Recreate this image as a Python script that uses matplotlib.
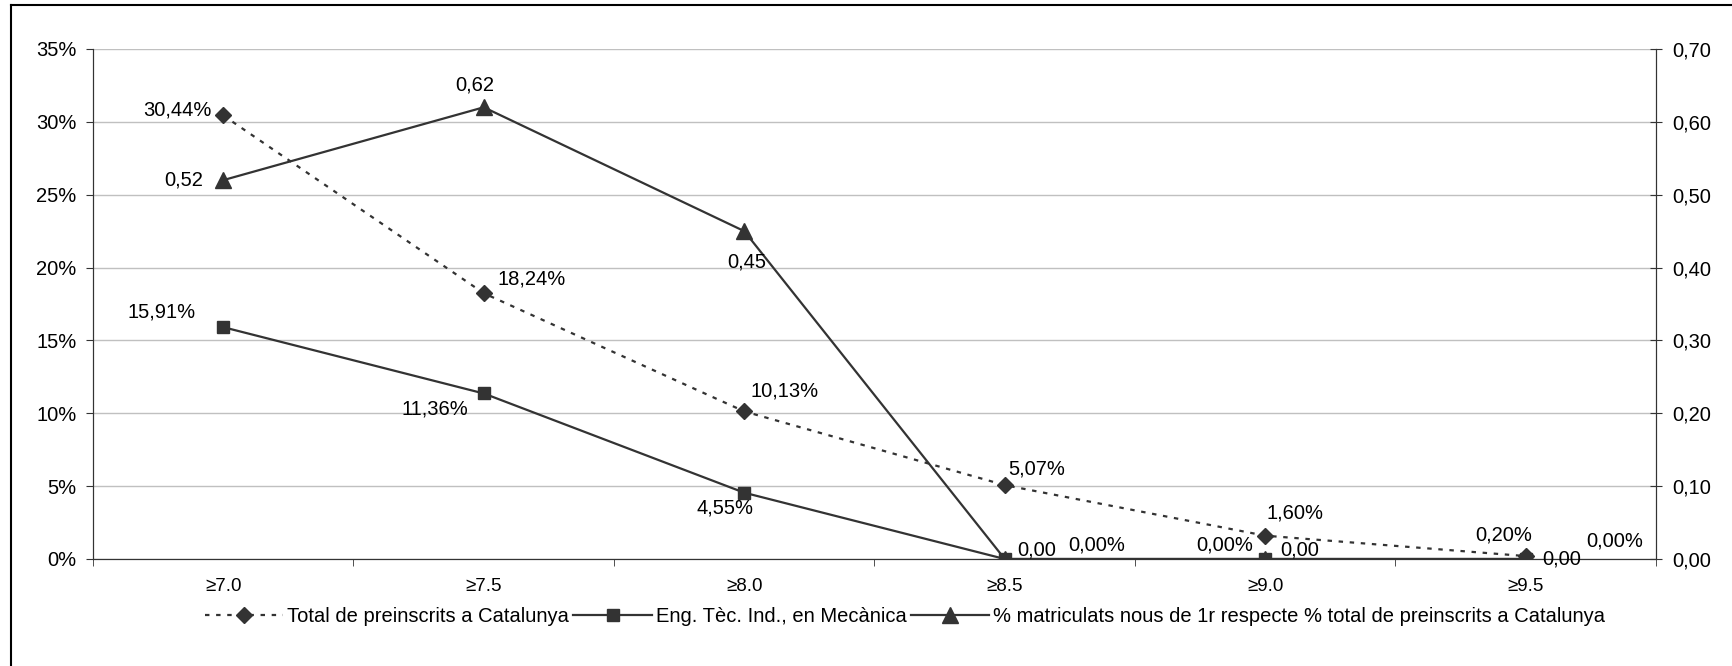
import matplotlib
matplotlib.use("Agg")
import matplotlib.pyplot as plt
from matplotlib.lines import Line2D
from matplotlib.ticker import FuncFormatter, MultipleLocator

plt.rcParams['font.family'] = ['Liberation Sans', 'DejaVu Sans']
plt.rcParams['font.size'] = 14.5

# data
categories = ['≥7.0', '≥7.5', '≥8.0', '≥8.5', '≥9.0', '≥9.5']
total_catalunya = [30.44, 18.24, 10.13, 5.07, 1.60, 0.20]   # %
eng_mecanica = [15.91, 11.36, 4.55, 0.00, 0.00, 0.00]       # %
ratio_matriculats = [0.52, 0.62, 0.45, 0.00, 0.00, 0.00]    # right axis

names = ['Total de preinscrits a Catalunya',
         'Eng. Tèc. Ind., en Mecànica',
         '% matriculats nous de 1r respecte % total de preinscrits a Catalunya']

# label offsets in pixels (dx, dy, ha)
off_total = [(-12, 5, 'right'), (14, 14, 'left'), (6, 20, 'left'),
             (4, 16, 'left'), (1, 23, 'left'), (6, 21, 'right')]
off_eng = [(-28, 15, 'right'), (-15, -16, 'right'), (9, -15, 'right'),
           (64, 14, 'left'), (-12, 14, 'right'), (61, 18, 'left')]
off_ratio = [(-20, 0, 'right'), (-9, 22, 'center'), (3, -31, 'center'),
             (13, 9, 'left'), (15, 9, 'left'), (17, 0, 'left')]

dark = '#333333'
x = list(range(len(categories)))

fig = plt.figure(figsize=(17.33, 6.66), dpi=100)
ax = fig.add_axes([93 / 1733, 1 - 559 / 666, (1656 - 93) / 1733, (559 - 49) / 666])
ax2 = ax.twinx()

l1, = ax.plot(x, total_catalunya, color=dark, linestyle=(0, (2, 3)), linewidth=1.6,
              marker='D', markersize=8, label=names[0], zorder=3)
l2, = ax.plot(x, eng_mecanica, color=dark, linestyle='-', linewidth=1.6,
              marker='s', markersize=9, label=names[1], zorder=3)
l3, = ax2.plot(x, ratio_matriculats, color=dark, linestyle='-', linewidth=1.6,
               marker='^', markersize=11, label=names[2], zorder=3)

ax.set_xlim(-0.5, len(categories) - 0.5)
ax.set_ylim(0, 35)
ax2.set_ylim(0, 0.70)

ax.yaxis.set_major_locator(MultipleLocator(5))
ax.yaxis.set_major_formatter(FuncFormatter(lambda v, p: '%d%%' % round(v)))
ax2.yaxis.set_major_locator(MultipleLocator(0.1))
ax2.yaxis.set_major_formatter(FuncFormatter(lambda v, p: ('%.2f' % v).replace('.', ',')))

ax.set_xticks(x)
ax.set_xticklabels(categories)
ax.set_xticks([i - 0.5 for i in range(len(categories) + 1)], minor=True)
ax.tick_params(axis='x', which='major', length=0, pad=14, labelsize=13.5)
ax.tick_params(axis='x', which='minor', length=5, color=dark, direction='out')
ax.tick_params(axis='y', length=5, color=dark, pad=7, labelsize=14.5)
ax2.tick_params(axis='y', length=9, color=dark, direction='inout', pad=7, labelsize=14.5)

ax.grid(axis='y', color='#c0c0c0', linewidth=1)
ax.set_axisbelow(True)
for a in (ax, ax2):
    a.spines['top'].set_visible(False)
    a.spines['left'].set_color(dark)
    a.spines['right'].set_color(dark)
    a.spines['bottom'].set_color(dark)

pct = lambda v: ('%.2f%%' % v).replace('.', ',')
dec = lambda v: ('%.2f' % v).replace('.', ',')

for i, v in enumerate(total_catalunya):
    dx, dy, ha = off_total[i]
    ax.annotate(pct(v), (i, v), xytext=(dx, dy), textcoords='offset pixels',
                ha=ha, va='center', fontsize=14.5, zorder=5)
for i, v in enumerate(eng_mecanica):
    dx, dy, ha = off_eng[i]
    ax.annotate(pct(v), (i, v), xytext=(dx, dy), textcoords='offset pixels',
                ha=ha, va='center', fontsize=14.5, zorder=5)
for i, v in enumerate(ratio_matriculats):
    dx, dy, ha = off_ratio[i]
    ax2.annotate(dec(v), (i, v), xytext=(dx, dy), textcoords='offset pixels',
                 ha=ha, va='center', fontsize=14.5, zorder=5)

fig.legend(handles=[l1, l2, l3], loc='center', bbox_to_anchor=(905 / 1733, 1 - 617 / 666),
           ncol=3, frameon=False, fontsize=14.5, handlelength=3.9, columnspacing=0.2,
           handletextpad=0.2, borderaxespad=0)

# outer frame (partly cut off)
fig.add_artist(Line2D([11.5 / 1733, 11.5 / 1733], [0, 1 - 5 / 666], color='black', linewidth=1.5,
                      transform=fig.transFigure))
fig.add_artist(Line2D([11.5 / 1733, 1], [1 - 5 / 666, 1 - 5 / 666], color='black', linewidth=1.5,
                      transform=fig.transFigure))

fig.savefig('out.png', dpi=100)
